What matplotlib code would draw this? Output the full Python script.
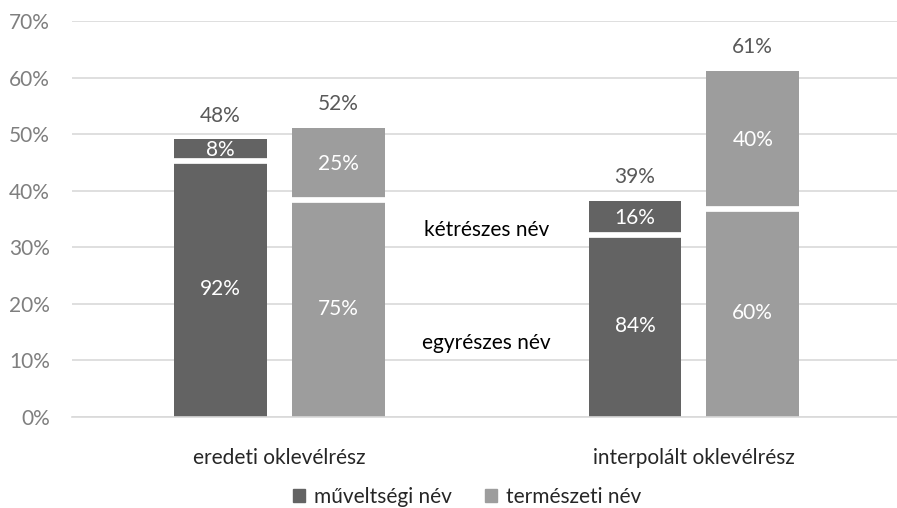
import matplotlib.pyplot as plt
import numpy as np

plt.rcParams['font.family'] = ['Lato', 'DejaVu Sans']

# adatok
categories = ["eredeti oklevélrész", "interpolált oklevélrész"]
series_names = ["műveltségi név", "természeti név"]
# oszlopok teljes magassága (%)
totals_muv = [49.1, 38.2]
totals_term = [51.1, 61.2]
# feliratok az oszlopok fölött
total_labels_muv = ["48%", "39%"]
total_labels_term = ["52%", "61%"]
# egyrészes / kétrészes arány az oszlopon belül (%)
egy_muv = [92, 84]
ket_muv = [8, 16]
egy_term = [75, 60]
ket_term = [25, 40]

dark = "#636363"
light = "#9d9d9d"
grid_c = "#d9d9d9"
fs = 15

fig = plt.figure(figsize=(8.97, 5.08), dpi=100)
ax = fig.add_axes([72 / 897, 1 - 417 / 508, 1 - 72 / 897, (417 - 21) / 508])

x = np.arange(len(categories))
w = 0.224
off = 0.142


def draw(xpos, totals, egy, ket, tlabels, color):
    totals = np.array(totals)
    lower = totals * np.array(egy) / 100
    upper = totals - lower
    ax.bar(xpos, lower, w, color=color, zorder=2)
    ax.bar(xpos, upper, w, bottom=lower, color=color, zorder=2)
    # fehér elválasztó
    ax.hlines(lower, xpos - w / 2, xpos + w / 2, colors="white", lw=4.1, zorder=3)
    for xi, lo, up, tot, e, k, tl in zip(xpos, lower, upper, totals, egy, ket, tlabels):
        ax.text(xi, lo / 2, f"{e}%", ha="center", va="center", color="white", fontsize=fs, zorder=4)
        ax.text(xi, lo + up / 2, f"{k}%", ha="center", va="center", color="white", fontsize=fs, zorder=4)
        ax.annotate(tl, (xi, tot), xytext=(0, 17), textcoords="offset points",
                    ha="center", va="center", color="#595959", fontsize=fs)


draw(x - off, totals_muv, egy_muv, ket_muv, total_labels_muv, dark)
draw(x + off, totals_term, egy_term, ket_term, total_labels_term, light)

ax.text(0.5, 33, "kétrészes név", ha="center", va="center", fontsize=fs, color="black")
ax.text(0.5, 13.1, "egyrészes név", ha="center", va="center", fontsize=fs, color="black")

ax.set_xlim(-0.5, 1.49)
ax.set_ylim(0, 70)
ax.set_yticks(range(0, 71, 10))
ax.set_yticklabels([f"{v}%" for v in range(0, 71, 10)])
ax.yaxis.grid(True, color=grid_c, lw=1.2, zorder=0)
ax.set_axisbelow(True)
ax.tick_params(axis="y", length=0, pad=16, labelsize=fs, labelcolor="#7f7f7f")
ax.tick_params(axis="x", length=0, pad=22, labelsize=fs, labelcolor="#262626")
ax.set_xticks(x)
ax.set_xticklabels(categories)
for s in ["top", "right", "left"]:
    ax.spines[s].set_visible(False)
ax.spines["bottom"].set_color(grid_c)
ax.spines["bottom"].set_linewidth(1.2)

handles = [plt.Rectangle((0, 0), 1, 1, color=dark), plt.Rectangle((0, 0), 1, 1, color=light)]
fig.legend(handles, series_names, loc="center", bbox_to_anchor=(467 / 897, 1 - 497 / 508),
           ncol=2, frameon=False, fontsize=fs, handlelength=0.6, handleheight=0.6,
           handletextpad=0.4, columnspacing=1.6, labelcolor="#262626")

fig.savefig("out.png", dpi=100)
